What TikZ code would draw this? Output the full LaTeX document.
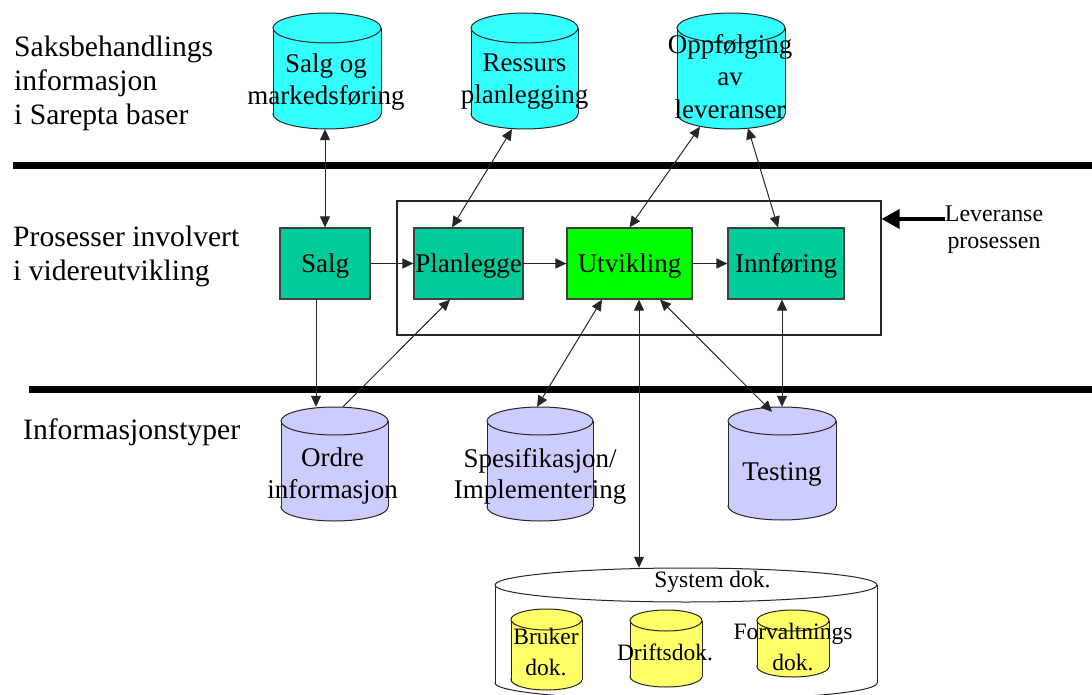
\documentclass[tikz,border=0pt]{standalone}
\usepackage{fontspec}
\setmainfont{Liberation Serif}
\usepackage{tikz}
\usetikzlibrary{arrows.meta}
\usetikzlibrary{positioning}
\definecolor{dbcyan}{RGB}{51,255,255}
\definecolor{procteal}{RGB}{0,204,153}
\definecolor{devgreen}{RGB}{0,255,0}
\definecolor{infolilac}{RGB}{204,204,255}
\definecolor{docyellow}{RGB}{255,255,102}
\newcommand{\bigfont}{\fontsize{29.6}{34}\selectfont}
\newcommand{\midfont}{\fontsize{27}{32}\selectfont}
\newcommand{\smallfont}{\fontsize{23.5}{31}\selectfont}
% cylinder: name, fill, left, right, top, bottom, y-radius
\newcommand{\dbcyl}[7]{%
  \pgfmathsetmacro{\cylcx}{(#3+#4)/2}
  \pgfmathsetmacro{\cylrx}{(#4-#3)/2}
  \pgfmathsetmacro{\cyltc}{#5+#7}
  \pgfmathsetmacro{\cylbc}{#6-#7}
  \filldraw[cyl,fill=#2] (\cylcx,\cylbc) ellipse ({\cylrx} and {#7});
  \fill[#2] (#3,\cyltc) rectangle (#4,\cylbc);
  \draw[cyl] (#3,\cyltc) -- (#3,\cylbc) (#4,\cyltc) -- (#4,\cylbc);
  \filldraw[cyl,fill=#2] (\cylcx,\cyltc) ellipse ({\cylrx} and {#7});
  \node[inner sep=0,minimum width={#4-#3},minimum height={#6-#5}] (#1) at (\cylcx,{(#5+#6)/2}) {};
}

\begin{document}
\begin{tikzpicture}[x=1pt,y=-1pt,
    cyl/.style={draw=black!85,line width=1pt},
    proc/.style={draw=black!75,line width=1.2pt,fill=procteal,inner sep=0,
      minimum height=71pt,font=\midfont,text height=18.4pt,text depth=0pt},
    cyltext/.style={align=center,font=\midfont,inner sep=0},
    doctext/.style={align=center,font=\smallfont,inner sep=0},
    sidetext/.style={align=left,font=\bigfont,inner sep=0},
    link/.style={draw=black!85,line width=1pt,-{Triangle[length=11pt,width=10pt]}},
    bilink/.style={draw=black!85,line width=1pt,{Triangle[length=11pt,width=10pt]}-{Triangle[length=11pt,width=10pt]}},
    sep/.style={line width=6.5pt}]
  \useasboundingbox (0,0) rectangle (1092,695);

  \draw [sep] (13,165.5) -- (1100,165.5);
  \draw [sep] (29,389.5) -- (1100,389.5);

  \node [sidetext] (saksinfo) at (14,83.1) [anchor=west] {Saksbehandlings\\informasjon\\i Sarepta baser};
  \node [sidetext] (prosinv) at (13,256.1) [anchor=west] {Prosesser involvert\\i videreutvikling};
  \node [sidetext,anchor=base west] (infotyp) at (23,439) {Informasjonstyper};

  % databases at the top
  \dbcyl{salgmark}{dbcyan}{273}{381}{13}{129}{15}
  \dbcyl{ressurs}{dbcyan}{471}{578}{13}{129}{15}
  \dbcyl{oppf}{dbcyan}{677}{785}{13}{129}{15}
  \node [cyltext] (salgmarklbl) at (326,81.7) {Salg og\\markedsføring};
  \node [cyltext] (ressurslbl) at (524.5,82) {Ressurs\\planlegging};
  \node [cyltext,font=\fontsize{27}{32.5}\selectfont] (oppflbl) at (730,76.2) {Oppfølging\\av\\leveranser};

  % the delivery process
  \node [draw=black!85,line width=1.2pt,minimum width=484pt,minimum height=134pt] (levframe) at (639,268) {};
  \node [doctext,font=\fontsize{23.9}{27}\selectfont] (lev) at (994,230) {Leveranse\\prosessen};
  \draw [line width=4pt,-{Triangle[length=18pt,width=19pt]}] ([yshift=11pt]lev.west) -- ([yshift=11pt]lev.west -| levframe.east);

  \node [proc,minimum width=90pt] (salg) at (325,263.5) {Salg};
  \node [proc,minimum width=109pt] (planlegge) at (468.5,263.5) {Planlegge};
  \node [proc,minimum width=125pt,fill=devgreen] (utvikling) at (629.5,263.5) {Utvikling};
  \node [proc,minimum width=116pt] (innforing) at (786,263.5) {Innføring};

  % information types
  \dbcyl{ordre}{infolilac}{281}{388}{407}{521}{14}
  \dbcyl{spes}{infolilac}{487}{593}{407}{521}{14}
  \dbcyl{testing}{infolilac}{728}{836}{407}{520}{14}
  \node [cyltext,font=\fontsize{27}{31.5}\selectfont] (ordrelbl) at (332.5,476.2) {Ordre\\informasjon};
  \node [cyltext,font=\fontsize{27}{31.5}\selectfont] (speslbl) at (540,476.2) {Spesifikasjon/\\Implementering};
  \node [cyltext,anchor=base] (testinglbl) at (782,480) {Testing};

  % system documentation
  \dbcyl{sysdok}{white}{495}{877}{568}{700}{17}
  \dbcyl{bruker}{docyellow}{511}{582}{609}{690}{10.5}
  \dbcyl{drifts}{docyellow}{630}{702}{610}{687}{10.5}
  \dbcyl{forvalt}{docyellow}{757}{829}{610}{677}{10.5}
  \node [doctext,anchor=base] (sysdoklbl) at (712.5,587) {System dok.};
  \node [doctext] (brukerlbl) at (546,652.4) {Bruker\\dok.};
  \node [doctext,anchor=base] (driftslbl) at (665,660) {Driftsdok.};
  \node [doctext] (forvaltlbl) at (793,647.4) {Forvaltnings\\dok.};

  % connectors
  \draw [bilink] (salg.north |- salgmark.south) -- (salg.north);
  \draw [bilink] ([xshift=-12.5pt]ressurs.south) -- ([xshift=-16.5pt]planlegge.north);
  \draw [bilink] ([xshift=-31pt,yshift=2.5pt]oppf.south) -- (utvikling.north);
  \draw [bilink] ([xshift=17pt,yshift=1pt]oppf.south) -- ([xshift=-8pt]innforing.north);
  \draw [link] (salg) -- (planlegge);
  \draw [link] (planlegge) -- (utvikling);
  \draw [link] (utvikling) -- (innforing);
  \draw [link] ([xshift=-9pt]salg.south) -- ([xshift=-9pt]salg.south |- ordre.north);
  \draw [link] ([xshift=8.5pt]ordre.north) -- ([xshift=-18.5pt]planlegge.south);
  \draw [bilink] ([xshift=-27.5pt]utvikling.south) -- ([xshift=-3pt]spes.north);
  \draw [bilink] ([xshift=9.5pt]utvikling.south) -- ([xshift=9.5pt]utvikling.south |- sysdok.north);
  \draw [bilink] ([xshift=30.5pt]utvikling.south) -- ([xshift=-10pt,yshift=-5pt]testing.north);
  \draw [bilink] ([xshift=-4pt]innforing.south) -- ([xshift=-4pt]innforing.south |- testing.north);
\end{tikzpicture}
\end{document}
